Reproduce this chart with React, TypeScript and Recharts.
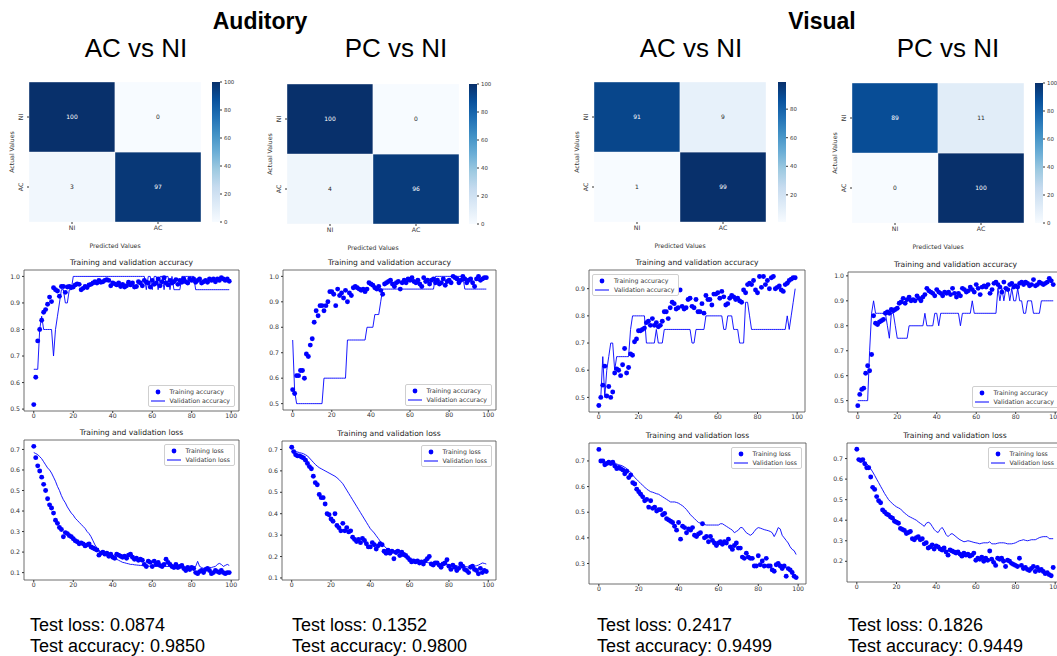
import React from 'react'
import { LineChart, Line, XAxis, YAxis, ReferenceArea, Legend, BarChart, Bar, Cell, LabelList } from 'recharts'

const MPL = '"DejaVu Sans", Verdana, sans-serif'
const HELV = '"Liberation Sans", Arial, Helvetica, sans-serif'

// ---- headings / text
const groups = ['Auditory', 'Visual']
const comparisons = ['AC vs NI', 'PC vs NI', 'AC vs NI', 'PC vs NI']
const testLoss = ['0.0874', '0.1352', '0.2417', '0.1826']
const testAcc = ['0.9850', '0.9800', '0.9499', '0.9449']

// ---- confusion matrices (rows = actual NI/AC, cols = predicted NI/AC)
const classes = ['NI', 'AC']
const cmAudAC = [[100, 0], [3, 97]]
const cmAudPC = [[100, 0], [4, 96]]
const cmVisAC = [[91, 9], [1, 99]]
const cmVisPC = [[89, 11], [0, 100]]
const cbarTicks = [0, 20, 40, 60, 80, 100]
const cbarTicksVisAC = [20, 40, 60, 80]

// ---- training curves
const epochTicks = [0, 20, 40, 60, 80, 100]
const accTicks = [0.5, 0.6, 0.7, 0.8, 0.9, 1.0]
const accTicksVisAC = [0.5, 0.6, 0.7, 0.8, 0.9]
const lossTicks = [0.1, 0.2, 0.3, 0.4, 0.5, 0.6, 0.7]
const lossTicksVisAC = [0.3, 0.4, 0.5, 0.6, 0.7]
const lossTicksVisPC = [0.2, 0.3, 0.4, 0.5, 0.6, 0.7]

const audAcTrainAcc = [
  0.517, 0.62, 0.757, 0.80, 0.835, 0.865, 0.875, 0.895, 0.922, 0.905,
  0.957, 0.95, 0.945, 0.925, 0.962, 0.962, 0.94, 0.96, 0.962, 0.958,
  0.96, 0.968, 0.972, 0.97, 0.95, 0.955, 0.962, 0.958, 0.968, 0.97,
  0.975, 0.98, 0.975, 0.985, 0.978, 0.98, 0.985, 0.988, 0.985, 0.965,
  0.975, 0.972, 0.968, 0.975, 0.962, 0.97, 0.96, 0.965, 0.978, 0.968,
  0.975, 0.96, 0.962, 0.98, 0.975, 0.965, 0.985, 0.978, 0.975, 0.96,
  0.985, 0.97, 0.975, 0.99, 0.965, 0.98, 0.995, 0.975, 0.968, 0.985,
  0.975, 0.98, 0.988, 0.97, 0.985, 0.978, 0.99, 0.98, 0.975, 0.99,
  0.985, 0.99, 0.978, 0.985, 0.99, 0.975, 0.98, 0.985, 0.978, 0.99,
  0.985, 0.99, 0.98, 0.99, 0.985, 0.995, 0.99, 0.985, 0.99, 0.982,
]
const audAcValAcc = [
  0.65, 0.65, 0.65, 0.8, 0.85, 0.8, 0.8, 0.8, 0.8, 0.8,
  0.7, 0.8, 0.85, 0.9, 0.95, 0.95, 0.9, 0.9, 0.95, 0.95,
  1.0, 1.0, 1.0, 1.0, 1.0, 1.0, 1.0, 1.0, 1.0, 1.0,
  1.0, 1.0, 1.0, 1.0, 1.0, 1.0, 1.0, 1.0, 1.0, 1.0,
  1.0, 1.0, 1.0, 1.0, 1.0, 1.0, 1.0, 1.0, 1.0, 1.0,
  1.0, 1.0, 1.0, 1.0, 1.0, 1.0, 1.0, 0.95, 1.0, 1.0,
  0.95, 1.0, 1.0, 0.95, 1.0, 1.0, 0.95, 1.0, 1.0, 0.95,
  1.0, 0.95, 0.95, 0.95, 0.95, 1.0, 1.0, 1.0, 1.0, 1.0,
  1.0, 1.0, 0.95, 0.95, 0.95, 0.95, 0.95, 0.95, 0.95, 0.95,
  0.95, 0.95, 0.95, 0.95, 0.95, 0.95, 0.95, 0.95, 0.95, 0.95,
]
const audAcTrainLoss = [
  0.715, 0.66, 0.62, 0.595, 0.565, 0.53, 0.5, 0.46, 0.43, 0.415,
  0.39, 0.355, 0.34, 0.32, 0.31, 0.275, 0.295, 0.29, 0.28, 0.275,
  0.265, 0.255, 0.25, 0.24, 0.245, 0.24, 0.23, 0.235, 0.24, 0.225,
  0.22, 0.215, 0.21, 0.185, 0.195, 0.2, 0.19, 0.195, 0.18, 0.19,
  0.175, 0.17, 0.19, 0.185, 0.18, 0.175, 0.18, 0.17, 0.185, 0.19,
  0.175, 0.165, 0.17, 0.16, 0.165, 0.16, 0.14, 0.13, 0.155, 0.15,
  0.13, 0.155, 0.14, 0.15, 0.135, 0.13, 0.14, 0.165, 0.15, 0.14,
  0.13, 0.125, 0.14, 0.125, 0.13, 0.135, 0.12, 0.11, 0.125, 0.115,
  0.125, 0.12, 0.1, 0.095, 0.105, 0.11, 0.1, 0.115, 0.12, 0.11,
  0.095, 0.1, 0.11, 0.105, 0.1, 0.11, 0.1, 0.095, 0.1, 0.1,
]
const audAcValLoss = [
  0.685, 0.68, 0.675, 0.665, 0.655, 0.64, 0.625, 0.61, 0.6, 0.585,
  0.565, 0.545, 0.52, 0.5, 0.475, 0.455, 0.44, 0.42, 0.405, 0.39,
  0.38, 0.365, 0.355, 0.345, 0.335, 0.325, 0.315, 0.3, 0.29, 0.275,
  0.255, 0.235, 0.22, 0.21, 0.2, 0.195, 0.19, 0.185, 0.18, 0.178,
  0.175, 0.17, 0.165, 0.16, 0.155, 0.15, 0.148, 0.145, 0.143, 0.14,
  0.14, 0.138, 0.137, 0.136, 0.135, 0.135, 0.134, 0.133, 0.132, 0.131,
  0.13, 0.13, 0.13, 0.13, 0.13, 0.13, 0.13, 0.13, 0.13, 0.13,
  0.13, 0.13, 0.13, 0.13, 0.13, 0.13, 0.128, 0.127, 0.126, 0.125,
  0.125, 0.128, 0.13, 0.155, 0.13, 0.125, 0.12, 0.12, 0.122, 0.125,
  0.125, 0.128, 0.13, 0.14, 0.145, 0.14, 0.13, 0.135, 0.14, 0.135,
]

const audPcTrainAcc = [
  0.555, 0.54, 0.61, 0.61, 0.63, 0.63, 0.6, 0.695, 0.685, 0.73,
  0.755, 0.82, 0.865, 0.845, 0.885, 0.885, 0.865, 0.885, 0.9, 0.94,
  0.94, 0.93, 0.885, 0.95, 0.925, 0.935, 0.915, 0.945, 0.9, 0.935,
  0.925, 0.955, 0.96, 0.955, 0.95, 0.945, 0.95, 0.94, 0.95, 0.975,
  0.97, 0.965, 0.955, 0.95, 0.96, 0.945, 0.93, 0.97, 0.975, 0.98,
  0.985, 0.97, 0.96, 0.975, 0.98, 0.95, 0.975, 0.985, 0.975, 0.99,
  0.985, 0.995, 0.98, 0.975, 0.985, 0.97, 0.96, 0.995, 0.98, 0.985,
  0.97, 0.985, 0.99, 0.975, 0.985, 0.97, 0.975, 0.99, 0.965, 0.98,
  0.985, 0.975, 1.0, 0.995, 0.99, 0.975, 0.985, 1.0, 0.99, 0.975,
  0.985, 0.99, 0.975, 0.96, 0.99, 1.0, 0.985, 0.99, 0.995, 0.995,
]
const audPcValAcc = [
  0.75, 0.55, 0.5, 0.5, 0.5, 0.5, 0.5, 0.5, 0.5, 0.5,
  0.5, 0.5, 0.5, 0.5, 0.5, 0.5, 0.6, 0.6, 0.6, 0.6,
  0.6, 0.6, 0.6, 0.6, 0.6, 0.6, 0.6, 0.6, 0.75, 0.75,
  0.75, 0.75, 0.75, 0.75, 0.75, 0.75, 0.75, 0.75, 0.8, 0.8,
  0.8, 0.8, 0.85, 0.85, 0.85, 0.9, 0.95, 0.95, 0.95, 0.95,
  0.95, 0.95, 0.95, 0.95, 0.95, 0.95, 0.95, 0.95, 0.95, 0.95,
  0.95, 0.95, 0.95, 0.95, 0.95, 0.95, 0.95, 0.95, 0.95, 0.95,
  0.95, 0.95, 0.95, 1.0, 1.0, 1.0, 1.0, 1.0, 1.0, 1.0,
  1.0, 1.0, 1.0, 1.0, 1.0, 1.0, 1.0, 1.0, 0.95, 0.95,
  0.95, 0.95, 0.95, 0.95, 0.95, 0.95, 0.95, 0.95, 0.95, 0.95,
]
const audPcTrainLoss = [
  0.71, 0.69, 0.675, 0.67, 0.67, 0.665, 0.66, 0.65, 0.635, 0.62,
  0.61, 0.575, 0.545, 0.535, 0.49, 0.475, 0.475, 0.445, 0.4, 0.395,
  0.375, 0.365, 0.4, 0.345, 0.335, 0.32, 0.355, 0.32, 0.335, 0.315,
  0.32, 0.29, 0.28, 0.27, 0.28, 0.265, 0.285, 0.275, 0.26, 0.245,
  0.245, 0.265, 0.255, 0.235, 0.25, 0.26, 0.255, 0.225, 0.215, 0.23,
  0.215, 0.225, 0.19, 0.22, 0.225, 0.205, 0.22, 0.21, 0.205, 0.195,
  0.185, 0.175, 0.18, 0.175, 0.18, 0.17, 0.175, 0.165, 0.18, 0.19,
  0.2, 0.165, 0.16, 0.17, 0.17, 0.16, 0.15, 0.165, 0.17, 0.185,
  0.155, 0.14, 0.16, 0.15, 0.135, 0.145, 0.165, 0.155, 0.14, 0.135,
  0.125, 0.15, 0.155, 0.14, 0.135, 0.12, 0.145, 0.125, 0.135, 0.13,
]
const audPcValLoss = [
  0.69, 0.69, 0.69, 0.688, 0.685, 0.683, 0.68, 0.675, 0.67, 0.66,
  0.65, 0.64, 0.63, 0.622, 0.615, 0.61, 0.605, 0.6, 0.595, 0.59,
  0.585, 0.58, 0.575, 0.568, 0.56, 0.55, 0.54, 0.525, 0.51, 0.495,
  0.48, 0.465, 0.45, 0.435, 0.42, 0.405, 0.39, 0.375, 0.36, 0.345,
  0.33, 0.32, 0.31, 0.297, 0.285, 0.272, 0.26, 0.25, 0.24, 0.232,
  0.225, 0.22, 0.215, 0.21, 0.207, 0.205, 0.202, 0.2, 0.197, 0.194,
  0.19, 0.188, 0.186, 0.184, 0.182, 0.18, 0.178, 0.176, 0.174, 0.172,
  0.17, 0.169, 0.168, 0.167, 0.166, 0.165, 0.164, 0.163, 0.162, 0.161,
  0.16, 0.159, 0.158, 0.157, 0.156, 0.155, 0.155, 0.155, 0.155, 0.153,
  0.15, 0.152, 0.155, 0.155, 0.157, 0.16, 0.165, 0.17, 0.168, 0.165,
]

const visAcTrainAcc = [
  0.47, 0.5, 0.545, 0.615, 0.505, 0.54, 0.5, 0.52, 0.59, 0.605,
  0.6, 0.58, 0.62, 0.68, 0.59, 0.61, 0.66, 0.655, 0.705, 0.715,
  0.745, 0.745, 0.75, 0.755, 0.775, 0.78, 0.765, 0.79, 0.765, 0.775,
  0.76, 0.765, 0.78, 0.815, 0.815, 0.79, 0.83, 0.85, 0.845, 0.825,
  0.83, 0.895, 0.835, 0.825, 0.83, 0.86, 0.865, 0.835, 0.83, 0.86,
  0.815, 0.815, 0.845, 0.81, 0.875, 0.86, 0.86, 0.84, 0.88, 0.88,
  0.885, 0.865, 0.89, 0.87, 0.84, 0.845, 0.865, 0.875, 0.87, 0.86,
  0.865, 0.855, 0.85, 0.895, 0.885, 0.915, 0.92, 0.915, 0.93, 0.895,
  0.885, 0.945, 0.905, 0.945, 0.915, 0.93, 0.9, 0.94, 0.945, 0.9,
  0.905, 0.91, 0.895, 0.89, 0.915, 0.92, 0.93, 0.935, 0.94, 0.94,
]
const visAcValAcc = [
  0.5, 0.5, 0.65, 0.5, 0.6, 0.65, 0.7, 0.7, 0.6, 0.65,
  0.65, 0.65, 0.65, 0.65, 0.65, 0.65, 0.75, 0.8, 0.8, 0.8,
  0.8, 0.8, 0.8, 0.8, 0.7, 0.7, 0.7, 0.7, 0.7, 0.75,
  0.7, 0.7, 0.7, 0.75, 0.75, 0.75, 0.75, 0.75, 0.75, 0.75,
  0.75, 0.75, 0.75, 0.75, 0.75, 0.75, 0.75, 0.7, 0.7, 0.75,
  0.75, 0.75, 0.75, 0.75, 0.8, 0.8, 0.8, 0.8, 0.8, 0.8,
  0.8, 0.8, 0.8, 0.75, 0.75, 0.8, 0.8, 0.8, 0.75, 0.75,
  0.75, 0.7, 0.7, 0.7, 0.85, 0.85, 0.8, 0.75, 0.75, 0.75,
  0.75, 0.75, 0.75, 0.75, 0.75, 0.75, 0.75, 0.75, 0.75, 0.75,
  0.75, 0.75, 0.75, 0.75, 0.75, 0.8, 0.75, 0.8, 0.85, 0.9,
]
const visAcTrainLoss = [
  0.745, 0.7, 0.7, 0.685, 0.69, 0.695, 0.69, 0.695, 0.68, 0.67,
  0.675, 0.67, 0.665, 0.65, 0.66, 0.635, 0.645, 0.615, 0.61, 0.59,
  0.58, 0.57, 0.56, 0.545, 0.55, 0.52, 0.545, 0.515, 0.52, 0.505,
  0.51, 0.51, 0.49, 0.495, 0.475, 0.47, 0.465, 0.46, 0.445, 0.43,
  0.46, 0.395, 0.445, 0.44, 0.42, 0.435, 0.43, 0.44, 0.41, 0.405,
  0.415, 0.42, 0.455, 0.4, 0.405, 0.385, 0.405, 0.39, 0.38, 0.37,
  0.38, 0.385, 0.375, 0.385, 0.38, 0.395, 0.365, 0.355, 0.37, 0.38,
  0.36, 0.36, 0.325, 0.32, 0.34, 0.325, 0.32, 0.32, 0.29, 0.29,
  0.33, 0.295, 0.31, 0.29, 0.32, 0.29, 0.29, 0.275, 0.27, 0.295,
  0.3, 0.29, 0.28, 0.29, 0.25, 0.28, 0.275, 0.265, 0.25, 0.245,
]
const visAcValLoss = [
  0.695, 0.695, 0.695, 0.695, 0.695, 0.695, 0.694, 0.693, 0.69, 0.688,
  0.685, 0.683, 0.68, 0.675, 0.67, 0.663, 0.655, 0.645, 0.635, 0.628,
  0.62, 0.612, 0.605, 0.598, 0.59, 0.585, 0.58, 0.578, 0.575, 0.572,
  0.57, 0.565, 0.56, 0.555, 0.55, 0.545, 0.54, 0.54, 0.54, 0.538,
  0.535, 0.53, 0.525, 0.518, 0.51, 0.5, 0.49, 0.482, 0.475, 0.467,
  0.46, 0.457, 0.455, 0.452, 0.45, 0.45, 0.45, 0.45, 0.45, 0.45,
  0.45, 0.455, 0.455, 0.45, 0.445, 0.44, 0.435, 0.43, 0.42, 0.425,
  0.43, 0.44, 0.44, 0.43, 0.42, 0.415, 0.41, 0.415, 0.425, 0.435,
  0.44, 0.438, 0.435, 0.432, 0.43, 0.428, 0.425, 0.42, 0.405, 0.42,
  0.44, 0.435, 0.41, 0.4, 0.39, 0.38, 0.365, 0.355, 0.35, 0.335,
]

const visPcTrainAcc = [
  0.48, 0.525, 0.545, 0.55, 0.61, 0.64, 0.62, 0.685, 0.84, 0.81,
  0.805, 0.815, 0.82, 0.825, 0.85, 0.855, 0.85, 0.865, 0.86, 0.865,
  0.87, 0.89, 0.895, 0.91, 0.89, 0.905, 0.915, 0.9, 0.905, 0.9,
  0.92, 0.91, 0.9, 0.915, 0.925, 0.95, 0.94, 0.935, 0.93, 0.92,
  0.945, 0.935, 0.93, 0.92, 0.935, 0.93, 0.935, 0.925, 0.95, 0.93,
  0.915, 0.93, 0.92, 0.95, 0.945, 0.935, 0.94, 0.955, 0.945, 0.935,
  0.965, 0.95, 0.925, 0.955, 0.96, 0.955, 0.965, 0.93, 0.945, 0.97,
  0.975, 0.965, 0.955, 0.935, 0.975, 0.95, 0.945, 0.965, 0.97, 0.955,
  0.96, 0.955, 0.97, 0.975, 0.965, 0.975, 0.97, 0.96, 0.965, 0.985,
  0.96, 0.965, 0.975, 0.97, 0.965, 0.97, 0.975, 0.99, 0.98, 0.965,
]
const visPcValAcc = [
  0.5, 0.5, 0.5, 0.5, 0.5, 0.5, 0.7, 0.85, 0.9, 0.85,
  0.85, 0.85, 0.85, 0.85, 0.85, 0.8, 0.75, 0.85, 0.85, 0.8,
  0.75, 0.75, 0.75, 0.75, 0.75, 0.75, 0.8, 0.8, 0.8, 0.8,
  0.8, 0.8, 0.8, 0.8, 0.85, 0.8, 0.8, 0.8, 0.8, 0.85,
  0.85, 0.8, 0.85, 0.85, 0.85, 0.85, 0.85, 0.85, 0.85, 0.85,
  0.85, 0.85, 0.8, 0.85, 0.85, 0.85, 0.85, 0.85, 0.9, 0.85,
  0.85, 0.85, 0.85, 0.85, 0.85, 0.85, 0.85, 0.85, 0.85, 0.85,
  0.85, 0.95, 0.9, 0.95, 0.9, 0.95, 0.95, 0.9, 0.95, 0.9,
  0.9, 0.95, 0.9, 0.9, 0.85, 0.85, 0.9, 0.9, 0.9, 0.85,
  0.85, 0.85, 0.85, 0.9, 0.9, 0.9, 0.9, 0.9, 0.9, 0.9,
]
const visPcTrainLoss = [
  0.745, 0.695, 0.69, 0.695, 0.675, 0.655, 0.655, 0.61, 0.56, 0.55,
  0.515, 0.495, 0.485, 0.45, 0.44, 0.43, 0.425, 0.415, 0.41, 0.395,
  0.39, 0.385, 0.36, 0.355, 0.35, 0.335, 0.34, 0.345, 0.31, 0.305,
  0.315, 0.32, 0.305, 0.31, 0.285, 0.29, 0.265, 0.27, 0.28, 0.26,
  0.275, 0.27, 0.26, 0.255, 0.265, 0.245, 0.23, 0.255, 0.25, 0.245,
  0.24, 0.245, 0.235, 0.225, 0.24, 0.23, 0.235, 0.225, 0.23, 0.24,
  0.205, 0.215, 0.21, 0.22, 0.2, 0.215, 0.205, 0.25, 0.21, 0.195,
  0.18, 0.215, 0.21, 0.215, 0.2, 0.175, 0.205, 0.2, 0.19, 0.185,
  0.18, 0.175, 0.215, 0.18, 0.165, 0.17, 0.16, 0.155, 0.165, 0.175,
  0.15, 0.17, 0.155, 0.16, 0.15, 0.14, 0.145, 0.135, 0.13, 0.17,
]
const visPcValLoss = [
  0.695, 0.695, 0.695, 0.69, 0.685, 0.675, 0.665, 0.65, 0.635, 0.618,
  0.6, 0.583, 0.565, 0.548, 0.53, 0.515, 0.5, 0.49, 0.48, 0.472,
  0.465, 0.46, 0.455, 0.445, 0.435, 0.428, 0.42, 0.415, 0.41, 0.405,
  0.4, 0.392, 0.385, 0.378, 0.37, 0.385, 0.39, 0.385, 0.37, 0.355,
  0.345, 0.34, 0.355, 0.365, 0.35, 0.33, 0.32, 0.33, 0.335, 0.328,
  0.32, 0.312, 0.305, 0.3, 0.295, 0.297, 0.3, 0.298, 0.295, 0.292,
  0.29, 0.288, 0.285, 0.288, 0.29, 0.29, 0.29, 0.295, 0.285, 0.285,
  0.285, 0.288, 0.29, 0.29, 0.29, 0.288, 0.285, 0.285, 0.285, 0.287,
  0.29, 0.295, 0.3, 0.302, 0.305, 0.302, 0.3, 0.302, 0.305, 0.305,
  0.305, 0.31, 0.315, 0.318, 0.32, 0.32, 0.32, 0.31, 0.31, 0.31,
]

// ---- colormap (matplotlib Blues)
const BLUES = ['#f7fbff', '#deebf7', '#c6dbef', '#9ecae1', '#6baed6', '#4292c6', '#2171b5', '#08519c', '#08306b']
const hexRgb = (h: string) => [1, 3, 5].map(i => parseInt(h.slice(i, i + 2), 16))
function blues(t: number) {
  const c = Math.max(0, Math.min(1, t)) * (BLUES.length - 1)
  const i = Math.min(Math.floor(c), BLUES.length - 2)
  const f = c - i
  const a = hexRgb(BLUES[i]), b = hexRgb(BLUES[i + 1])
  const m = a.map((v, k) => Math.round(v + (b[k] - v) * f))
  return `rgb(${m[0]},${m[1]},${m[2]})`
}

const tickStyle = { fontSize: 6.2, fill: '#333', fontFamily: MPL }

function RotTick(p: any) {
  return (
    <text x={p.x} y={p.y} transform={`rotate(-90 ${p.x} ${p.y})`} textAnchor="middle"
      fontSize={6.2} fill="#333" fontFamily={MPL}>
      {p.payload.value < 1 ? classes[1] : classes[0]}
    </text>
  )
}

function Heatmap({ cm, x, y, cbX, ticks, id }: any) {
  const flat = cm.flat()
  const vmin = Math.min(...flat), vmax = Math.max(...flat)
  const norm = (v: number) => (v - vmin) / (vmax - vmin)
  const rows = classes.map((p, j) => ({ pred: p, ni: 1, ac: 1, vNI: cm[0][j], vAC: cm[1][j] }))
  const W = 172, H = 140, YW = 22, XH = 26
  const cellLabel = (p: any) => (
    <text x={p.x + p.width / 2} y={p.y + p.height / 2} dy={2} textAnchor="middle" fontSize={6}
      fontFamily={MPL} fill={norm(p.value) > 0.5 ? '#ffffff' : '#262626'}>{p.value}</text>
  )
  return (
    <>
      <div style={{ position: 'absolute', left: x - YW, top: y }}>
        <BarChart width={W + YW} height={H + XH} data={rows} margin={{ top: 0, right: 0, left: 0, bottom: 0 }}
          barCategoryGap={0}>
          <XAxis dataKey="pred" height={XH} tickSize={2} tick={tickStyle} tickLine={{ stroke: '#333' }}
            axisLine={false}
            label={{ value: 'Predicted Values', position: 'insideBottom', offset: 0, fontSize: 6.2, fill: '#333', fontFamily: MPL }} />
          <YAxis type="number" domain={[0, 2]} ticks={[0.5, 1.5]} width={YW} tickSize={2} tickMargin={4}
            tick={<RotTick />} tickLine={{ stroke: '#333' }} axisLine={false}
            label={{ value: 'Actual Values', angle: -90, position: 'insideLeft', fontSize: 6.2, fill: '#333', fontFamily: MPL, style: { textAnchor: 'middle' } }} />
          <Bar dataKey="ac" stackId="m" isAnimationActive={false} stroke="#ffffff" strokeWidth={0.4}>
            {rows.map((r, i) => <Cell key={i} fill={blues(norm(r.vAC))} />)}
            <LabelList dataKey="vAC" content={cellLabel} />
          </Bar>
          <Bar dataKey="ni" stackId="m" isAnimationActive={false} stroke="#ffffff" strokeWidth={0.4}>
            {rows.map((r, i) => <Cell key={i} fill={blues(norm(r.vNI))} />)}
            <LabelList dataKey="vNI" content={cellLabel} />
          </Bar>
        </BarChart>
      </div>
      <div style={{ position: 'absolute', left: cbX, top: y - 4 }}>
        <BarChart width={8 + 22} height={H + 8} data={[{ v: vmax }]} margin={{ top: 4, right: 0, left: 0, bottom: 4 }}
          barCategoryGap={0}>
          <defs>
            <linearGradient id={id} x1="0" y1="0" x2="0" y2="1">
              {BLUES.slice().reverse().map((c, i) => (
                <stop key={i} offset={`${(i / (BLUES.length - 1)) * 100}%`} stopColor={c} />
              ))}
            </linearGradient>
          </defs>
          <XAxis hide />
          <YAxis orientation="right" type="number" domain={[vmin, vmax]} ticks={ticks} width={22} tickSize={2}
            allowDataOverflow tick={{ fontSize: 5.4, fill: '#333', fontFamily: MPL }} tickLine={{ stroke: '#333' }}
            axisLine={false} />
          <Bar dataKey="v" fill={`url(#${id})`} isAnimationActive={false} />
        </BarChart>
      </div>
    </>
  )
}

function LegendBox({ names }: { names: string[] }) {
  const row = { display: 'flex', alignItems: 'center', height: 9 }
  return (
    <div style={{ border: '0.8px solid #cfcfcf', borderRadius: 2, background: 'rgba(255,255,255,0.85)',
      padding: '1px 4px 1px 2px', fontFamily: MPL, fontSize: 6.2, color: '#333', whiteSpace: 'nowrap' }}>
      <div style={row}>
        <svg width={14} height={6} style={{ marginRight: 5 }}><circle cx={7} cy={3} r={2.4} fill="#0000ff" /></svg>
        {names[0]}
      </div>
      <div style={row}>
        <svg width={14} height={6} style={{ marginRight: 5 }}><line x1={0} y1={3} x2={14} y2={3} stroke="#0000ff" strokeWidth={1} /></svg>
        {names[1]}
      </div>
    </div>
  )
}

function History({ f, title, train, val, names, yTicks, corner }: any) {
  const YW = 24, XH = 14, R = 2
  const all = [...train, ...val]
  const lo = Math.min(...all), hi = Math.max(...all), pad = (hi - lo) * 0.05
  const yDom = [lo - pad, hi + pad]
  const n = train.length - 1
  const xDom = [-0.05 * n, n * 1.05]
  const rows = train.map((t: number, i: number) => ({ epoch: i, train: t, val: val[i] }))
  const pos = corner === 'lr' ? { right: R + 4, bottom: XH + 4 }
    : corner === 'ur' ? { right: R + 4, top: 4 }
    : { left: YW + 3, top: 4 }
  return (
    <>
      <div style={{ position: 'absolute', left: f.x, top: f.y - 12, width: f.w, textAlign: 'center',
        fontFamily: MPL, fontSize: 7.6, color: '#222', lineHeight: '10px' }}>{title}</div>
      <div style={{ position: 'absolute', left: f.x - YW, top: f.y }}>
        <LineChart width={f.w + YW + R} height={f.h + XH} data={rows} margin={{ top: 0, right: R, left: 0, bottom: 0 }}>
          <ReferenceArea x1={xDom[0]} x2={xDom[1]} y1={yDom[0]} y2={yDom[1]} fill="none" stroke="#4a4a4a"
            strokeWidth={0.8} ifOverflow="visible" />
          <XAxis type="number" dataKey="epoch" domain={xDom} allowDataOverflow ticks={epochTicks} height={XH}
            tickSize={2} tickMargin={1} tick={tickStyle} tickLine={{ stroke: '#333' }} axisLine={false} />
          <YAxis type="number" domain={yDom} allowDataOverflow ticks={yTicks} width={YW} tickSize={2} tickMargin={2}
            tickFormatter={(v: number) => v.toFixed(1)} tick={tickStyle} tickLine={{ stroke: '#333' }} axisLine={false} />
          <Line type="linear" dataKey="val" stroke="#0000ff" strokeWidth={0.9} dot={false} isAnimationActive={false} />
          <Line type="linear" dataKey="train" stroke="none" dot={{ r: 2.45, fill: '#0000ff', stroke: 'none' }}
            activeDot={false} isAnimationActive={false} />
          <Legend layout="vertical" align="center" verticalAlign="middle" wrapperStyle={{ ...pos, width: 'auto' }}
            content={() => <LegendBox names={names} />} />
        </LineChart>
      </div>
    </>
  )
}

const accNames = ['Training accuracy', 'Validation accuracy']
const lossNames = ['Training loss', 'Validation loss']
const accTitle = 'Training and validation accuracy'
const lossTitle = 'Training and validation loss'

const columns = [
  { cm: cmAudAC, cmX: 29, cmY: 82, cbX: 212, cbT: cbarTicks, head: 136, textX: 30,
    acc: { x: 24, y: 270, w: 215, h: 141 }, loss: { x: 24, y: 440, w: 215, h: 140 },
    tA: audAcTrainAcc, vA: audAcValAcc, tL: audAcTrainLoss, vL: audAcValLoss,
    aT: accTicks, lT: lossTicks, aC: 'lr', lC: 'ur' },
  { cm: cmAudPC, cmX: 287, cmY: 84, cbX: 469, cbT: cbarTicks, head: 396, textX: 292,
    acc: { x: 283, y: 270, w: 213, h: 140 }, loss: { x: 282, y: 441, w: 214, h: 139 },
    tA: audPcTrainAcc, vA: audPcValAcc, tL: audPcTrainLoss, vL: audPcValLoss,
    aT: accTicks, lT: lossTicks, aC: 'lr', lC: 'ur' },
  { cm: cmVisAC, cmX: 594, cmY: 82, cbX: 778, cbT: cbarTicksVisAC, head: 691, textX: 597,
    acc: { x: 589, y: 270, w: 216, h: 142 }, loss: { x: 589, y: 443, w: 217, h: 141 },
    tA: visAcTrainAcc, vA: visAcValAcc, tL: visAcTrainLoss, vL: visAcValLoss,
    aT: accTicksVisAC, lT: lossTicksVisAC, aC: 'ul', lC: 'ur' },
  { cm: cmVisPC, cmX: 852, cmY: 83, cbX: 1035, cbT: cbarTicks, head: 948, textX: 848,
    acc: { x: 848, y: 272, w: 215, h: 140 }, loss: { x: 847, y: 443, w: 216, h: 139 },
    tA: visPcTrainAcc, vA: visPcValAcc, tL: visPcTrainLoss, vL: visPcValLoss,
    aT: accTicks, lT: lossTicksVisPC, aC: 'lr', lC: 'ur' },
]

export default function App() {
  return (
    <div style={{ position: 'absolute', left: 0, top: 0, width: 1057, height: 656, overflow: 'hidden', background: '#fff' }}>
      <style>{'svg { overflow: visible; }'}</style>
      {groups.map((g, i) => (
        <div key={g} style={{ position: 'absolute', left: i === 0 ? 160 : 722, top: 8, width: 200, textAlign: 'center',
          fontFamily: HELV, fontWeight: 'bold', fontSize: 23, color: '#000' }}>{g}</div>
      ))}
      {columns.map((c, i) => (
        <div key={i}>
          <div style={{ position: 'absolute', left: c.head - 100, top: 33, width: 200, textAlign: 'center',
            fontFamily: HELV, fontSize: 26, color: '#000' }}>{comparisons[i]}</div>
          <Heatmap cm={c.cm} x={c.cmX} y={c.cmY} cbX={c.cbX} ticks={c.cbT} id={`cbar${i}`} />
          <History f={c.acc} title={accTitle} train={c.tA} val={c.vA} names={accNames} yTicks={c.aT} corner={c.aC} />
          <History f={c.loss} title={lossTitle} train={c.tL} val={c.vL} names={lossNames} yTicks={c.lT} corner={c.lC} />
          <div style={{ position: 'absolute', left: c.textX, top: 615, fontFamily: HELV, fontSize: 18, lineHeight: '21px', color: '#000' }}>
            <div>Test loss: {testLoss[i]}</div>
            <div>Test accuracy: {testAcc[i]}</div>
          </div>
        </div>
      ))}
    </div>
  )
}
